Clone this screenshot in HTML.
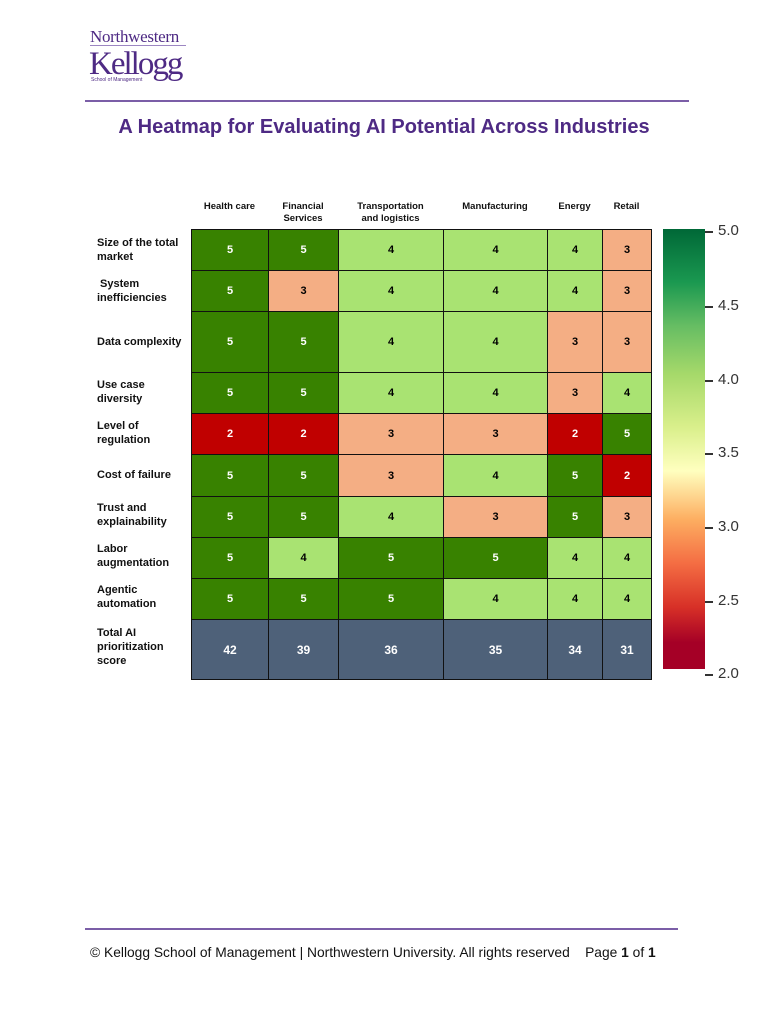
<!DOCTYPE html>
<html><head><meta charset="utf-8"><style>
body{margin:0;width:768px;height:1024px;background:#fff;position:relative;font-family:"Liberation Sans",Arial,sans-serif;overflow:hidden}
.a{position:absolute}
.rl{position:absolute;left:97px;font-size:11px;font-weight:bold;line-height:14px;color:#111}
.ch{position:absolute;top:201px;font-size:9.5px;font-weight:bold;line-height:12px;text-align:center;color:#111}
table{position:absolute;left:191px;top:229px;border-collapse:collapse;table-layout:fixed;width:461px}
td{border:1px solid #111;text-align:center;font-weight:bold;font-size:11px;padding:0}
.g{background:#388200;color:#fff}.l{background:#a9e372;color:#000}.s{background:#f4ae84;color:#000}.r{background:#c00000;color:#fff}.t{background:#4e6179;color:#fff;font-size:12px}
.tk{position:absolute;left:705px;width:8px;height:1.5px;background:#333}
.tl{position:absolute;left:718px;font-size:15px;color:#333;line-height:16px}
</style></head><body>
<div class="a" style="left:90px;top:27px;font-family:'Liberation Serif',serif;font-size:17px;color:#4e2a84;letter-spacing:-0.3px">Northwestern</div>
<div class="a" style="left:90px;top:45px;width:96px;height:1px;background:#9c86c2"></div>
<div class="a" style="left:89px;top:47px;font-family:'Liberation Serif',serif;font-size:33px;color:#4e2a84;letter-spacing:-2px;line-height:34px">Kellogg</div>
<div class="a" style="left:91px;top:77px;font-size:5px;color:#4e2a84">School of Management</div>
<div class="a" style="left:85px;top:100px;width:604px;height:1.5px;background:#7b5ea7"></div>
<div class="a" style="left:0;width:768px;top:116px;text-align:center;font-size:20px;font-weight:bold;color:#4e2a84">A Heatmap for Evaluating AI Potential Across Industries</div>

<div class="ch" style="left:191px;width:77px">Health care</div>
<div class="ch" style="left:268px;width:70px">Financial<br>Services</div>
<div class="ch" style="left:338px;width:105px">Transportation<br>and logistics</div>
<div class="ch" style="left:443px;width:104px">Manufacturing</div>
<div class="ch" style="left:547px;width:55px">Energy</div>
<div class="ch" style="left:602px;width:49px">Retail</div>

<div class="rl" style="top:236px">Size of the total<br>market</div>
<div class="rl" style="top:277px">&nbsp;System<br>inefficiencies</div>
<div class="rl" style="top:335px">Data complexity</div>
<div class="rl" style="top:378px">Use case<br>diversity</div>
<div class="rl" style="top:419px">Level of<br>regulation</div>
<div class="rl" style="top:468px">Cost of failure</div>
<div class="rl" style="top:501px">Trust and<br>explainability</div>
<div class="rl" style="top:542px">Labor<br>augmentation</div>
<div class="rl" style="top:583px">Agentic<br>automation</div>
<div class="rl" style="top:626px">Total AI<br>prioritization<br>score</div>

<table>
<colgroup><col style="width:77px"><col style="width:70px"><col style="width:105px"><col style="width:104px"><col style="width:55px"><col style="width:49px"></colgroup>
<tr style="height:41px"><td class="g">5</td><td class="g">5</td><td class="l">4</td><td class="l">4</td><td class="l">4</td><td class="s">3</td></tr>
<tr style="height:41px"><td class="g">5</td><td class="s">3</td><td class="l">4</td><td class="l">4</td><td class="l">4</td><td class="s">3</td></tr>
<tr style="height:61px"><td class="g">5</td><td class="g">5</td><td class="l">4</td><td class="l">4</td><td class="s">3</td><td class="s">3</td></tr>
<tr style="height:41px"><td class="g">5</td><td class="g">5</td><td class="l">4</td><td class="l">4</td><td class="s">3</td><td class="l">4</td></tr>
<tr style="height:41px"><td class="r">2</td><td class="r">2</td><td class="s">3</td><td class="s">3</td><td class="r">2</td><td class="g">5</td></tr>
<tr style="height:42px"><td class="g">5</td><td class="g">5</td><td class="s">3</td><td class="l">4</td><td class="g">5</td><td class="r">2</td></tr>
<tr style="height:41px"><td class="g">5</td><td class="g">5</td><td class="l">4</td><td class="s">3</td><td class="g">5</td><td class="s">3</td></tr>
<tr style="height:41px"><td class="g">5</td><td class="l">4</td><td class="g">5</td><td class="g">5</td><td class="l">4</td><td class="l">4</td></tr>
<tr style="height:41px"><td class="g">5</td><td class="g">5</td><td class="g">5</td><td class="l">4</td><td class="l">4</td><td class="l">4</td></tr>
<tr style="height:60px"><td class="t">42</td><td class="t">39</td><td class="t">36</td><td class="t">35</td><td class="t">34</td><td class="t">31</td></tr>
</table>

<div class="a" style="left:663px;top:229px;width:42px;height:440px;background:linear-gradient(to bottom,#006837 0%,#1a9850 12%,#66bd63 22%,#a6d96a 33%,#d9ef8b 45%,#ffffbf 55%,#fdae61 66%,#f46d43 76%,#d73027 86%,#a50026 94%,#a50026 100%)"></div>
<div class="tk" style="top:231px"></div><div class="tl" style="top:223px">5.0</div>
<div class="tk" style="top:306px"></div><div class="tl" style="top:298px">4.5</div>
<div class="tk" style="top:380px"></div><div class="tl" style="top:372px">4.0</div>
<div class="tk" style="top:453px"></div><div class="tl" style="top:445px">3.5</div>
<div class="tk" style="top:527px"></div><div class="tl" style="top:519px">3.0</div>
<div class="tk" style="top:601px"></div><div class="tl" style="top:593px">2.5</div>
<div class="tk" style="top:674px"></div><div class="tl" style="top:666px">2.0</div>

<div class="a" style="left:85px;top:928px;width:593px;height:1.5px;background:#7b5ea7"></div>
<div class="a" style="left:90px;top:945px;font-size:13.8px;color:#111;white-space:nowrap">© Kellogg School of Management | Northwestern University. All rights reserved &nbsp;&nbsp;&nbsp;Page <b>1</b> of <b>1</b></div>
</body></html>
